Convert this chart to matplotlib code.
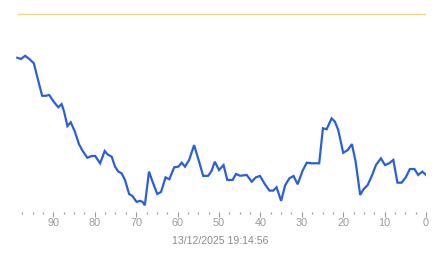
import numpy as np
import matplotlib
matplotlib.use('Agg')
import matplotlib.pyplot as plt

# Values (x = minutes ago, y = level in % of the threshold)
minutes_ago = [98.7, 97.8, 96.8, 95.8, 94.7, 94.0, 92.7, 91.8, 91.0, 89.8,
               88.8, 88.0, 87.4, 86.6, 85.8, 84.8, 83.8, 82.9, 81.8, 80.7,
               79.9, 78.7, 77.6, 76.9, 75.9, 75.1, 74.3, 73.5, 72.7, 71.7,
               70.9, 69.9, 69.1, 68.5, 67.9, 66.9, 65.9, 64.9, 64.0, 62.9,
               62.0, 60.8, 59.8, 59.0, 58.2, 57.2, 56.0, 54.8, 53.8, 52.6,
               51.8, 51.0, 50.0, 48.9, 48.0, 46.7, 45.9, 44.9, 43.3, 42.1,
               41.1, 40.1, 38.9, 37.8, 36.9, 36.1, 35.0, 34.0, 33.0, 32.0,
               31.0, 29.8, 28.8, 27.6, 25.8, 24.9, 24.0, 22.8, 22.0, 21.2,
               20.0, 18.9, 17.9, 17.0, 15.9, 15.1, 14.1, 13.1, 12.1, 10.9,
               9.9, 8.9, 7.9, 6.9, 5.9, 4.9, 3.9, 2.8, 1.9, 0.9, 0.0]
level = [77.9, 77.3, 78.9, 77.3, 75.1, 69.2, 58.7, 58.7, 59.1, 55.4,
         52.9, 54.5, 50.7, 43.4, 45.3, 40.6, 34.2, 30.8, 27.4, 28.3,
         28.3, 24.6, 30.8, 29.1, 27.9, 22.9, 20.4, 19.5, 16.2, 9.1,
         8.1, 5.1, 5.6, 5.2, 3.4, 20.4, 14.5, 9.1, 10.1, 17.5,
         16.5, 22.6, 22.9, 24.9, 22.9, 26.3, 33.8, 25.4, 18.2, 18.3,
         20.7, 25.4, 21.2, 23.7, 16.2, 16.2, 19.2, 18.3, 18.7, 15.3,
         17.5, 18.2, 14.0, 10.8, 10.8, 12.5, 5.6, 13.6, 17.0, 18.2,
         14.0, 20.9, 24.9, 24.6, 24.6, 42.3, 41.8, 47.3, 45.6, 41.4,
         29.9, 31.3, 34.3, 25.4, 8.6, 11.5, 13.6, 18.2, 23.7, 27.1,
         23.7, 24.6, 26.3, 14.8, 14.8, 17.5, 21.7, 21.7, 18.7, 20.4, 18.7]
threshold = 100
timestamp = '13/12/2025 19:14:56'

major_ticks = list(range(0, 100, 10))
minor_ticks = list(np.arange(0, 100, 2.5))

plt.rcParams['font.family'] = ['Liberation Sans', 'DejaVu Sans']

fig = plt.figure(figsize=(4.43, 2.58), dpi=100)
ax = fig.add_axes([0.0269, 0.1783, 0.9348, 0.8058])

# Threshold line (same span as the data) and measured series
ax.hlines(threshold, minutes_ago[0], minutes_ago[-1], color='#f3d68a', linewidth=1.0)
ax.plot(minutes_ago, level, color='#2b5fd9', linewidth=1.6, solid_joinstyle='miter')

ax.set_xlim(100, 0)
ax.set_ylim(0, 105)

for s in ax.spines.values():
    s.set_visible(False)
ax.set_yticks([])

ax.set_xticks(major_ticks)
ax.set_xticks(minor_ticks, minor=True)
ax.tick_params(axis='x', which='major', length=3.5, width=0.8, color='#999999',
               labelcolor='#9a9a9a', labelsize=7.8, pad=1)
ax.tick_params(axis='x', which='minor', length=1.2, width=0.9, color='#999999')

fig.text(220 / 443, 1 - 241 / 258, timestamp, ha='center', va='center',
         color='#8a8a8a', fontsize=7.6)

fig.savefig('out.png', dpi=100)
